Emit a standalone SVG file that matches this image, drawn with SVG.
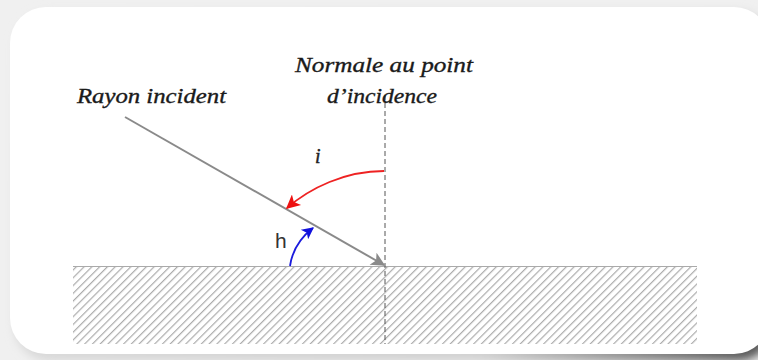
<svg xmlns="http://www.w3.org/2000/svg" width="758" height="360" viewBox="0 0 758 360">
<style>
.lbl{font-family:"Liberation Serif","DejaVu Serif",serif;font-style:italic;font-size:21px;fill:#1a1a1a;stroke:#1a1a1a;stroke-width:0.35}
.ray{stroke:#8a8a8a;stroke-width:2;fill:none}
</style>
<defs>
<pattern id="hatch" patternUnits="userSpaceOnUse" width="5.5" height="5.5" patternTransform="rotate(45)">
<rect width="5.5" height="5.5" fill="#ffffff"/>
<line x1="0" y1="0" x2="0" y2="5.5" stroke="#acacac" stroke-width="2.4"/>
</pattern>
<linearGradient id="shg" x1="0" y1="0" x2="1" y2="1">
<stop offset="0" stop-color="#e6e6e6"/>
<stop offset="0.8" stop-color="#d0d0d0"/>
<stop offset="1" stop-color="#444"/>
</linearGradient>
<marker id="ag" viewBox="0 0 10 10" refX="9" refY="5" markerWidth="18" markerHeight="14" markerUnits="userSpaceOnUse" orient="auto">
<path d="M0,0 L10,5 L0,10 L2.5,5 z" fill="#8a8a8a"/>
</marker>
<marker id="ar" viewBox="0 0 10 10" refX="9" refY="5" markerWidth="16" markerHeight="14" markerUnits="userSpaceOnUse" orient="auto">
<path d="M0,0 L10,5 L0,10 L2.5,5 z" fill="#ee1111"/>
</marker>
<marker id="ab" viewBox="0 0 10 10" refX="9" refY="5" markerWidth="14" markerHeight="12" markerUnits="userSpaceOnUse" orient="auto">
<path d="M0,0 L10,5 L0,10 L2.5,5 z" fill="#1111dd"/>
</marker>
<filter id="sh" x="-10%" y="-10%" width="120%" height="130%">
<feGaussianBlur stdDeviation="5"/>
</filter>
</defs>
<rect width="758" height="360" fill="#f0f0f0"/>
<rect x="14" y="11" width="760" height="350" rx="36" fill="url(#shg)" filter="url(#sh)"/>
<rect x="10" y="7" width="760" height="347" rx="36" fill="#ffffff"/>
<g id="surface">
<rect x="73" y="266" width="624" height="78" fill="url(#hatch)"/>
<line x1="73" y1="266.5" x2="697" y2="266.5" stroke="#aaa" stroke-width="1.2"/>
</g>
<g id="normal">
<line x1="385" y1="95" x2="385" y2="344" stroke="#555" stroke-width="1" stroke-dasharray="5,3"/>
<text class="lbl" x="295" y="72" textLength="178" lengthAdjust="spacingAndGlyphs">Normale au point</text>
<text class="lbl" x="327" y="103" textLength="110" lengthAdjust="spacingAndGlyphs">d’incidence</text>
</g>
<g id="rayon">
<text class="lbl" x="77" y="103" textLength="149" lengthAdjust="spacingAndGlyphs">Rayon incident</text>
</g>
<g id="connectors">
<line class="ray" x1="125" y1="117" x2="384" y2="265" marker-end="url(#ag)"/>
<path d="M384,171 C345,171 310,188 287,208" stroke="#ee2222" stroke-width="1.8" fill="none" marker-end="url(#ar)"/>
<path d="M290,266 C292,252 300,238 313,228" stroke="#1a1add" stroke-width="1.8" fill="none" marker-end="url(#ab)"/>
</g>
<g id="angles">
<text x="315" y="163" font-family="'Liberation Serif',serif" font-style="italic" font-size="20" fill="#222" stroke="#222" stroke-width="0.4">i</text>
<text x="275" y="248" font-family="'Liberation Sans',Arial,sans-serif" font-size="21" fill="#333">h</text>
</g>
</svg>
